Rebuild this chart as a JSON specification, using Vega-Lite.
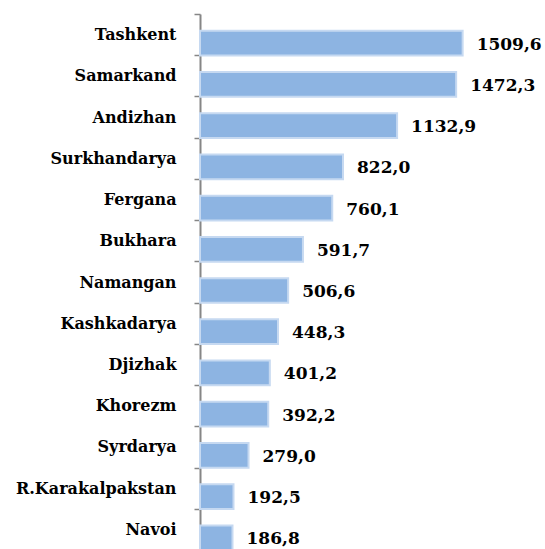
{
  "$schema": "https://vega.github.io/schema/vega-lite/v6.json",
  "width": 345,
  "height": 536,
  "autosize": "none",
  "padding": {"left": 200, "top": 14, "right": 0, "bottom": 0},
  "background": "white",
  "config": {
    "view": {"stroke": null},
    "locale": {"number": {"decimal": ",", "thousands": " ", "grouping": [3], "currency": ["", ""]}}
  },
  "data": {
    "values": [
      {"region": "Tashkent", "value": 1509.6},
      {"region": "Samarkand", "value": 1472.3},
      {"region": "Andizhan", "value": 1132.9},
      {"region": "Surkhandarya", "value": 822.0},
      {"region": "Fergana", "value": 760.1},
      {"region": "Bukhara", "value": 591.7},
      {"region": "Namangan", "value": 506.6},
      {"region": "Kashkadarya", "value": 448.3},
      {"region": "Djizhak", "value": 401.2},
      {"region": "Khorezm", "value": 392.2},
      {"region": "Syrdarya", "value": 279.0},
      {"region": "R.Karakalpakstan", "value": 192.5},
      {"region": "Navoi", "value": 186.8}
    ]
  },
  "encoding": {
    "y": {
      "field": "region",
      "type": "nominal",
      "sort": null,
      "scale": {"paddingInner": 0, "paddingOuter": 0},
      "axis": {
        "title": null,
        "domainColor": "#868686",
        "domainWidth": 2,
        "tickColor": "#868686",
        "tickSize": 6,
        "tickWidth": 1.5,
        "tickBand": "extent",
        "labelFont": "DejaVu Serif",
        "labelFontWeight": "bold",
        "labelFontSize": 16,
        "labelColor": "black",
        "labelPadding": 18,
        "labelLimit": 300
      }
    },
    "x": {
      "field": "value",
      "type": "quantitative",
      "scale": {"domain": [0, 1983]},
      "axis": null
    }
  },
  "layer": [
    {
      "mark": {
        "type": "bar",
        "height": {"band": 0.6},
        "yOffset": 8.5,
        "fill": "#8DB4E2",
        "stroke": "#C6D9F1",
        "strokeWidth": 2
      }
    },
    {
      "mark": {
        "type": "text",
        "align": "left",
        "baseline": "middle",
        "dx": 14,
        "yOffset": 10,
        "font": "DejaVu Serif",
        "fontWeight": "bold",
        "fontSize": 17,
        "color": "black"
      },
      "encoding": {
        "text": {"field": "value", "type": "quantitative", "format": ".1f"}
      }
    }
  ]
}
